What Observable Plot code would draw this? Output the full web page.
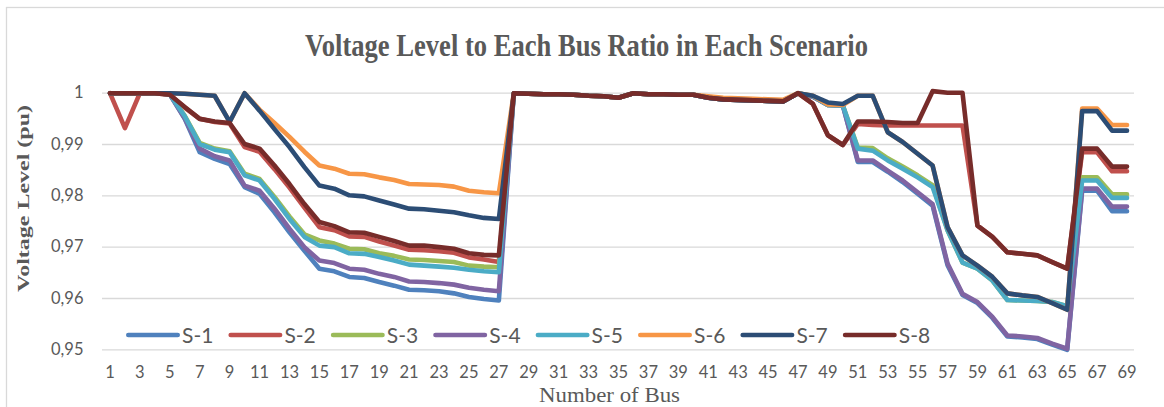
<!DOCTYPE html>
<html>
<head>
<meta charset="utf-8">
<script src="https://cdn.jsdelivr.net/npm/d3@7"></script>
<script src="https://cdn.jsdelivr.net/npm/@observablehq/plot@0.6"></script>
<style>
  html, body { margin: 0; padding: 0; background: #fff; }
  #chart svg { display: block; }
</style>
</head>
<body>
<div id="chart"></div>
<script>
// Bus numbers and axis ticks
const buses = d3.range(1, 70);
const xTicks = d3.range(1, 70, 2);
const yTicks = [0.95, 0.96, 0.97, 0.98, 0.99, 1];

const seriesNames = ["S-1", "S-2", "S-3", "S-4", "S-5", "S-6", "S-7", "S-8"];
const seriesColors = ["#4f81bd", "#c0504d", "#9bbb59", "#8064a2", "#4bacc6", "#f79646", "#2c4d75", "#772c2a"];

// Voltage (pu) at buses 1..69 for each scenario
const s1 = [
  1, 1, 1, 1, 0.9998, 0.9950, 0.9885, 0.9872, 0.9862, 0.9817,
  0.9804, 0.9768, 0.9729, 0.9693, 0.9658, 0.9653, 0.9642, 0.9640, 0.9632, 0.9625,
  0.9617, 0.9616, 0.9614, 0.9610, 0.9603, 0.9599, 0.9596,
  1.0000, 0.9999, 0.9998, 0.9998, 0.9997, 0.9995, 0.9994, 0.9991, 1.0000, 0.9998,
  0.9998, 0.9997, 0.9997, 0.9991, 0.9988, 0.9987, 0.9986, 0.9985, 0.9984, 1.0000,
  0.9993, 0.9977, 0.9976, 0.9866, 0.9866, 0.9847, 0.9827, 0.9804, 0.9781, 0.9665,
  0.9607, 0.9591, 0.9562, 0.9526, 0.9524, 0.9521, 0.9510, 0.9500, 0.9810, 0.9810, 0.9770, 0.9770
];
const s2 = [
  1, 0.9932, 1, 1, 0.9997, 0.9972, 0.9950, 0.9944, 0.9941, 0.9895,
  0.9886, 0.9852, 0.9816, 0.9777, 0.9739, 0.9733, 0.9721, 0.9720, 0.9711, 0.9703,
  0.9695, 0.9694, 0.9692, 0.9689, 0.9680, 0.9676, 0.9671,
  1.0000, 0.9999, 0.9998, 0.9998, 0.9997, 0.9995, 0.9994, 0.9991, 1.0000, 0.9998,
  0.9998, 0.9997, 0.9997, 0.9991, 0.9988, 0.9987, 0.9986, 0.9985, 0.9984, 1.0000,
  0.9979, 0.9918, 0.9899, 0.9940, 0.9938, 0.9937, 0.9937, 0.9937, 0.9937, 0.9937,
  0.9937, 0.9742, 0.9720, 0.9690, 0.9687, 0.9684, 0.9671, 0.9658, 0.9885, 0.9885, 0.9848, 0.9848
];
const s3 = [
  1, 1, 1, 1, 0.9998, 0.9956, 0.9903, 0.9892, 0.9887, 0.9843,
  0.9833, 0.9798, 0.9760, 0.9725, 0.9713, 0.9707, 0.9697, 0.9696, 0.9688, 0.9683,
  0.9676, 0.9675, 0.9673, 0.9671, 0.9664, 0.9662, 0.9661,
  1.0000, 0.9999, 0.9998, 0.9998, 0.9997, 0.9995, 0.9994, 0.9991, 1.0000, 0.9998,
  0.9998, 0.9997, 0.9997, 0.9991, 0.9988, 0.9987, 0.9986, 0.9985, 0.9984, 1.0000,
  0.9994, 0.9977, 0.9976, 0.9894, 0.9893, 0.9873, 0.9857, 0.9840, 0.9821, 0.9733,
  0.9670, 0.9658, 0.9635, 0.9597, 0.9596, 0.9595, 0.9593, 0.9585, 0.9836, 0.9836, 0.9803, 0.9803
];
const s4 = [
  1, 1, 1, 1, 0.9998, 0.9951, 0.9892, 0.9877, 0.9869, 0.9820,
  0.9810, 0.9775, 0.9736, 0.9700, 0.9674, 0.9669, 0.9658, 0.9656, 0.9648, 0.9642,
  0.9633, 0.9632, 0.9630, 0.9627, 0.9621, 0.9617, 0.9614,
  1.0000, 0.9999, 0.9998, 0.9998, 0.9997, 0.9995, 0.9994, 0.9991, 1.0000, 0.9998,
  0.9998, 0.9997, 0.9997, 0.9991, 0.9988, 0.9987, 0.9986, 0.9985, 0.9984, 1.0000,
  0.9993, 0.9977, 0.9976, 0.9869, 0.9869, 0.9849, 0.9830, 0.9807, 0.9784, 0.9668,
  0.9609, 0.9593, 0.9564, 0.9528, 0.9526, 0.9523, 0.9512, 0.9502, 0.9814, 0.9814, 0.9779, 0.9779
];
const s5 = [
  1, 1, 1, 1, 0.9998, 0.9955, 0.9901, 0.9890, 0.9885, 0.9840,
  0.9830, 0.9794, 0.9755, 0.9720, 0.9703, 0.9700, 0.9688, 0.9687, 0.9681, 0.9674,
  0.9666, 0.9664, 0.9662, 0.9660, 0.9656, 0.9653, 0.9651,
  1.0000, 0.9999, 0.9998, 0.9998, 0.9997, 0.9995, 0.9994, 0.9991, 1.0000, 0.9998,
  0.9998, 0.9997, 0.9997, 0.9991, 0.9988, 0.9987, 0.9986, 0.9985, 0.9984, 1.0000,
  0.9994, 0.9977, 0.9976, 0.9892, 0.9888, 0.9869, 0.9853, 0.9836, 0.9817, 0.9733,
  0.9670, 0.9658, 0.9635, 0.9597, 0.9596, 0.9595, 0.9593, 0.9585, 0.9830, 0.9830, 0.9796, 0.9796
];
const s6 = [
  1, 1, 1, 1, 1, 0.9999, 0.9997, 0.9995, 0.9944, 1,
  0.9968, 0.9942, 0.9915, 0.9886, 0.9859, 0.9853, 0.9843, 0.9842, 0.9836, 0.9831,
  0.9823, 0.9822, 0.9821, 0.9818, 0.9810, 0.9807, 0.9805,
  1.0000, 0.9999, 0.9998, 0.9998, 0.9997, 0.9995, 0.9994, 0.9991, 1.0000, 0.9998,
  0.9998, 0.9997, 0.9997, 0.9994, 0.9991, 0.9990, 0.9989, 0.9988, 0.9987, 1.0000,
  0.9995, 0.9978, 0.9977, 0.9995, 0.9995, 0.9924, 0.9905, 0.9882, 0.9859, 0.9739,
  0.9684, 0.9664, 0.9642, 0.9610, 0.9606, 0.9603, 0.9591, 0.9578, 0.9970, 0.9970, 0.9938, 0.9938
];
const s7 = [
  1, 1, 1, 1, 1, 0.9999, 0.9997, 0.9995, 0.9944, 1,
  0.9966, 0.9930, 0.9895, 0.9856, 0.9820, 0.9814, 0.9801, 0.9799, 0.9791, 0.9783,
  0.9775, 0.9774, 0.9771, 0.9768, 0.9762, 0.9757, 0.9755,
  1.0000, 0.9999, 0.9998, 0.9998, 0.9997, 0.9995, 0.9994, 0.9991, 1.0000, 0.9998,
  0.9998, 0.9997, 0.9997, 0.9991, 0.9988, 0.9987, 0.9986, 0.9985, 0.9984, 1.0000,
  0.9995, 0.9982, 0.9979, 0.9995, 0.9995, 0.9924, 0.9905, 0.9882, 0.9859, 0.9739,
  0.9684, 0.9664, 0.9642, 0.9610, 0.9606, 0.9603, 0.9591, 0.9578, 0.9965, 0.9965, 0.9927, 0.9927
];
const s8 = [
  1, 1, 1, 1, 0.9997, 0.9973, 0.9950, 0.9945, 0.9942, 0.9901,
  0.9892, 0.9859, 0.9823, 0.9784, 0.9749, 0.9741, 0.9729, 0.9728, 0.9720, 0.9712,
  0.9703, 0.9703, 0.9700, 0.9697, 0.9688, 0.9685, 0.9684,
  1.0000, 0.9999, 0.9998, 0.9998, 0.9997, 0.9995, 0.9994, 0.9991, 1.0000, 0.9998,
  0.9998, 0.9997, 0.9997, 0.9991, 0.9988, 0.9987, 0.9986, 0.9985, 0.9984, 1.0000,
  0.9979, 0.9918, 0.9899, 0.9945, 0.9945, 0.9944, 0.9942, 0.9942, 1.0004, 1.0001,
  1.0001, 0.9742, 0.9720, 0.9690, 0.9687, 0.9684, 0.9671, 0.9658, 0.9892, 0.9892, 0.9857, 0.9857
];

const seriesValues = [s1, s2, s3, s4, s5, s6, s7, s8];

// Long table: one row per (scenario, bus)
const rows = seriesValues.map((vals, i) =>
  buses.map((b, j) => ({ series: seriesNames[i], bus: b, v: vals[j] }))
);

const fmtY = d => d === 1 ? "1" : d.toFixed(2).replace(".", ",");
const textColor = "#595959";
const lineWidth = 4.6;

const chart = Plot.plot({
  width: 1164,
  height: 407,
  marginTop: 92.7,
  marginBottom: 57.7,
  marginLeft: 102,
  marginRight: 30,
  style: { background: "#fff", fontFamily: "Lato, 'Open Sans', sans-serif", overflow: "visible" },
  x: { domain: [0.5, 69.5], axis: null },
  y: { domain: [0.95, 1], axis: null },
  marks: [
    Plot.gridY(yTicks, { stroke: "#d9d9d9", strokeOpacity: 1, strokeWidth: 1.3 }),
    Plot.axisY(yTicks, { tickSize: 0, tickPadding: 19, tickFormat: fmtY, fontSize: 16.5, color: textColor, label: null }),
    Plot.axisX(xTicks, { tickSize: 0, tickPadding: 16, tickFormat: d => String(d), fontSize: 16.5, color: textColor, label: null }),
    // one line per scenario, drawn S-1 first so S-8 ends on top
    ...rows.map((data, i) => Plot.line(data, {
      x: "bus", y: "v",
      stroke: seriesColors[i],
      strokeWidth: lineWidth,
      strokeLinejoin: "round",
      strokeLinecap: "round"
    }))
  ]
});

document.getElementById("chart").appendChild(chart);

const svg = d3.select(chart);

// chart area border
svg.insert("rect", ":first-child")
  .attr("x", 6.5).attr("y", 7.5).attr("width", 1170).attr("height", 420)
  .attr("fill", "none").attr("stroke", "#d9d9d9").attr("stroke-width", 1.3);

// title
svg.append("text")
  .attr("x", 586.5).attr("y", 56)
  .attr("text-anchor", "middle")
  .attr("font-family", "'Liberation Serif', 'Times New Roman', serif")
  .attr("font-weight", "bold")
  .attr("font-size", 31)
  .attr("fill", textColor)
  .attr("textLength", 563)
  .attr("lengthAdjust", "spacingAndGlyphs")
  .text("Voltage Level to Each Bus Ratio in Each Scenario");

// y-axis title
svg.append("text")
  .attr("transform", "translate(29,198.5) rotate(-90) scale(1,0.8)")
  .attr("text-anchor", "middle")
  .attr("font-family", "'Liberation Serif', 'Times New Roman', serif")
  .attr("font-weight", "bold")
  .attr("font-size", 22)
  .attr("fill", textColor)
  .attr("textLength", 187)
  .attr("lengthAdjust", "spacingAndGlyphs")
  .text("Voltage Level (pu)");

// x-axis title
svg.append("text")
  .attr("x", 609.5).attr("y", 402)
  .attr("text-anchor", "middle")
  .attr("font-family", "'Liberation Serif', 'Times New Roman', serif")
  .attr("font-size", 21)
  .attr("fill", textColor)
  .attr("textLength", 141)
  .attr("lengthAdjust", "spacingAndGlyphs")
  .text("Number of Bus");

// legend inside the plot area, single row
const legend = svg.append("g").attr("class", "legend").attr("text-anchor", "start");
const legendX0 = 126, legendStep = 102.4, legendY = 335;
seriesNames.forEach((name, i) => {
  const x0 = legendX0 + i * legendStep;
  legend.append("line")
    .attr("x1", x0 + 2.3).attr("x2", x0 + 51.7)
    .attr("y1", legendY).attr("y2", legendY)
    .attr("stroke", seriesColors[i])
    .attr("stroke-width", lineWidth)
    .attr("stroke-linecap", "round");
  legend.append("text")
    .attr("x", x0 + 56).attr("y", legendY)
    .attr("dy", "0.36em")
    .attr("text-anchor", "start")
    .attr("font-family", "Lato, 'Open Sans', sans-serif")
    .attr("font-size", 21)
    .attr("fill", textColor)
    .text(name);
});
</script>
</body>
</html>
